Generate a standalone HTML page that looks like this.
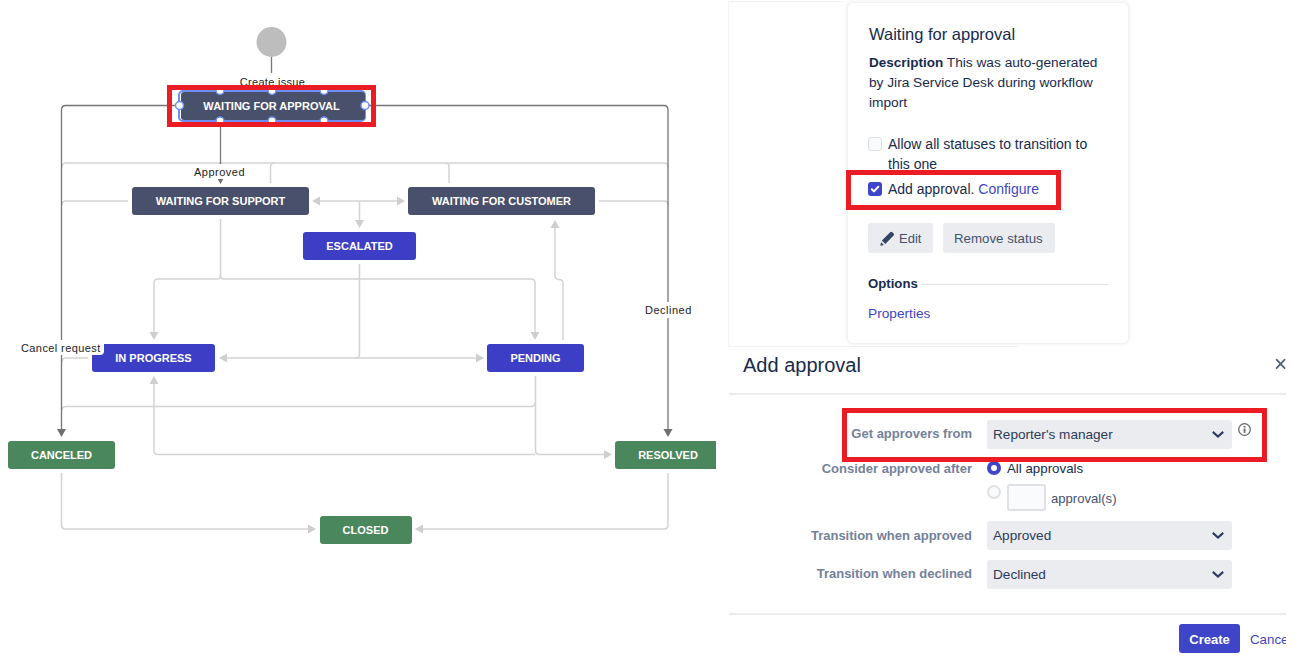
<!DOCTYPE html>
<html><head><meta charset="utf-8">
<style>
*{box-sizing:border-box;margin:0;padding:0}
html,body{width:1315px;height:660px;overflow:hidden;background:#fff}
body{position:relative;font-family:"Liberation Sans",sans-serif;color:#172B4D}
#diag{position:absolute;left:0;top:0;width:716px;height:660px;overflow:hidden}
.node{position:absolute;height:28px;border-radius:3px;color:#fff;font-weight:700;font-size:11px;text-align:center;line-height:28px;white-space:nowrap}
.slate{background:#49506B}
.indigo{background:#3C3EC6}
.green{background:#4B875C}
.lbl{position:absolute;font-size:11px;letter-spacing:0.5px;color:#222;background:#fff;white-space:nowrap;line-height:16px}
.red{position:absolute;border:5px solid #EC1C24}
.flabel{position:absolute;left:740px;width:232px;overflow:hidden;text-align:right;white-space:nowrap;font-size:13px;font-weight:700;color:#75819A;line-height:18px;direction:rtl}
.sel{position:absolute;left:987px;width:245px;height:29px;background:#EBECF0;border-radius:3px;font-size:13.6px;line-height:30px;padding-left:6px;color:#2C3A5A;white-space:nowrap}
.chev{position:absolute;left:225px;top:10.5px;width:12px;height:8px;background:no-repeat}
</style></head>
<body>
<div id="diag">
<svg width="716" height="660" style="position:absolute;left:0;top:0">
<g fill="none" stroke="#D3D3D3" stroke-width="1.5">
<path d="M62,167 Q62,163 66,163 H664 Q668,163 668,167"/>
<path d="M270.5,183 V167 Q270.5,163 274.5,163"/>
<path d="M445,163 Q449,163 449,167 V183"/>
<path d="M128,201 H66 Q62,201 62,205"/>
<path d="M599,201 H664 Q668,201 668,205"/>
<path d="M314,201 H403"/>
<path d="M359.5,201 V224"/>
<path d="M359.5,264 V354 Q359.5,358 355.5,358"/>
<path d="M221,358 H482"/>
<path d="M220.5,219 V275 Q220.5,279 216.5,279 H158 Q154,279 154,283 V336"/>
<path d="M220.5,275 Q220.5,279 224.5,279 H531 Q535,279 535,283 V336"/>
<path d="M563,340 V283 Q563,279.4 559,279.4 Q555,279.4 555,275.5 V224"/>
<path d="M62,410 Q62,406.5 66,406.5 H531 Q535,406.5 535,402.5"/>
<path d="M535.5,376 V450.5 Q535.5,454.5 539.5,454.5 H608"/>
<path d="M535,454.5 H158 Q154,454.5 154,450.5 V380"/>
<path d="M88,358 H66 Q62,358 62,362"/>
<path d="M61.5,473 V525 Q61.5,529 65.5,529 H312"/>
<path d="M668,473 V525 Q668,529 664,529 H419"/>
</g>
<g fill="#CFCFCF">
<path d="M312,201 l8,-4.5 v9z"/>
<path d="M405,201 l-8,-4.5 v9z"/>
<path d="M359.5,228 l-4.5,-8 h9z"/>
<path d="M154,340 l-4.5,-8 h9z"/>
<path d="M535,340 l-4.5,-8 h9z"/>
<path d="M555,220 l-4.5,8 h9z"/>
<path d="M219,358 l8,-4.5 v9z"/>
<path d="M484,358 l-8,-4.5 v9z"/>
<path d="M154,376 l-4.5,8 h9z"/>
<path d="M612,454.5 l-8,-4.5 v9z"/>
<path d="M316,529 l-8,-4.5 v9z"/>
<path d="M415,529 l8,-4.5 v9z"/>
</g>
<g fill="none" stroke="#767676" stroke-width="1.3">
<path d="M271.5,57 V73"/>
<path d="M178,105.5 H66 Q61.5,105.5 61.5,110 V430"/>
<path d="M366,105.5 H664 Q668,105.5 668,110 V430"/>
<path d="M220.5,122 V178"/>
</g>
<g fill="#707070">
<path d="M61.5,437 l-4.5,-8 h9z"/>
<path d="M668,437 l-4.5,-8 h9z"/>
<path d="M220.5,184 l-4.5,-8 h9z"/>
</g>
<circle cx="271.5" cy="42" r="15" fill="#BDBDBD"/>
</svg>
<div class="lbl" style="left:239.5px;top:74px;padding-left:0.3px;letter-spacing:0.3px">Create issue</div>
<div class="lbl" style="left:193.5px;top:163.5px;height:15.5px;padding-left:0.5px">Approved</div>
<div class="lbl" style="left:645px;top:302.4px;height:16px">Declined</div>

<div class="node slate" style="left:132px;top:187px;width:177px">WAITING FOR SUPPORT</div>
<div class="node slate" style="left:408px;top:187px;width:187px">WAITING FOR CUSTOMER</div>
<div class="node indigo" style="left:303px;top:232px;width:113px">ESCALATED</div>
<div class="node indigo" style="left:92px;top:344px;width:123px">IN PROGRESS</div>
<div class="node indigo" style="left:487px;top:344px;width:97px">PENDING</div>
<div class="node green" style="left:8px;top:441px;width:107px">CANCELED</div>
<div class="node green" style="left:615px;top:441px;width:106px">RESOLVED</div>
<div class="node green" style="left:319.5px;top:515.5px;width:92px">CLOSED</div>
<div class="lbl" style="left:18.5px;top:339.5px;width:85.5px;height:15.5px;padding-left:2.5px;letter-spacing:0.4px;border-radius:0 0 4px 0">Cancel request</div>

<!-- selected node -->
<div style="position:absolute;left:178px;top:90px;width:188px;height:32px;border:2px solid #6C8EF5;border-radius:5px"></div>
<div class="node slate" style="left:180.5px;top:91.5px;width:184px;height:28.5px;line-height:28px;padding-right:2px">WAITING FOR APPROVAL</div>
<svg width="716" height="660" style="position:absolute;left:0;top:0">
<g fill="#fff" stroke="#6C8EF5" stroke-width="1.5">
<circle cx="179.5" cy="105.5" r="4"/>
<circle cx="365" cy="105.5" r="4"/>
<circle cx="220" cy="90.5" r="4"/>
<circle cx="272" cy="90.5" r="4"/>
<circle cx="324" cy="90.5" r="4"/>
<circle cx="220" cy="121" r="4"/>
<circle cx="272" cy="121" r="4"/>
<circle cx="324" cy="121" r="4"/>
</g>
</svg>
<div class="red" style="left:167px;top:85px;width:209px;height:42px"></div>
</div>

<!-- right panels -->
<div style="position:absolute;left:728px;top:1px;width:1px;height:345px;background:#F4F5F7"></div><div style="position:absolute;left:728px;top:0.5px;width:115px;height:1.5px;background:#F2F3F5"></div><div style="position:absolute;left:728px;top:345.5px;width:290px;height:1.5px;background:#F1F2F4"></div>
<div id="card" style="position:absolute;left:848px;top:3px;width:280px;height:340px;background:#fff;border-radius:4px;box-shadow:0 0 1px rgba(0,0,0,0.12),0 0 5px rgba(0,0,0,0.11)">
  <div style="position:absolute;left:21px;top:21px;font-size:16.5px;line-height:20px;white-space:nowrap">Waiting for approval</div>
  <div style="position:absolute;left:21px;top:50px;width:250px;font-size:13.7px;line-height:20px"><b style="font-size:13.5px">Description</b> This was auto-generated<br>by Jira Service Desk during workflow<br>import</div>
  <div style="position:absolute;left:20px;top:134px;width:14px;height:14px;border:1.5px solid #DFE1E6;background:#FAFBFC;border-radius:3px"></div>
  <div style="position:absolute;left:40px;top:131px;font-size:14px;line-height:20px;white-space:nowrap">Allow all statuses to transition to<br>this one</div>
  <div style="position:absolute;left:20px;top:179px;width:14px;height:14px;background:#3F45C8;border-radius:3px"><svg width="14" height="14" style="position:absolute;left:0;top:0"><path d="M3.8,7.2 L6,9.4 L10.3,4.8" fill="none" stroke="#fff" stroke-width="2" stroke-linecap="round" stroke-linejoin="round"/></svg></div>
  <div style="position:absolute;left:40px;top:176px;font-size:14px;line-height:20px;white-space:nowrap">Add approval. <span style="color:#3F45C8">Configure</span></div>
  <div style="position:absolute;left:20px;top:220px;width:65px;height:30px;background:#EBECF0;border-radius:3px"></div>
  <svg width="18" height="18" style="position:absolute;left:31px;top:228px"><path d="M2.9,9.6 L11.2,1.3 Q12.3,0.4 13.3,1.3 L14.6,2.6 Q15.5,3.6 14.6,4.6 L6.3,12.9 Z" fill="#344563"/><path d="M1.3,14.7 L2.1,11.2 L4.9,14 Z" fill="#344563"/></svg>
  <div style="position:absolute;left:51px;top:226px;font-size:13px;line-height:20px;color:#42526E">Edit</div>
  <div style="position:absolute;left:95px;top:220px;width:112px;height:30px;background:#EBECF0;border-radius:3px"></div>
  <div style="position:absolute;left:106px;top:226px;font-size:13.3px;line-height:20px;color:#42526E;white-space:nowrap">Remove status</div>
  <div style="position:absolute;left:20px;top:271px;font-size:13.2px;font-weight:700;line-height:20px">Options</div>
  <div style="position:absolute;left:73px;top:281px;width:187px;height:1px;background:#DFE1E6"></div>
  <div style="position:absolute;left:20px;top:301px;font-size:13.7px;line-height:20px;color:#3F45C8">Properties</div>
</div>
<div class="red" style="left:846px;top:170px;width:215px;height:40px"></div>

<!-- dialog -->
<div style="position:absolute;left:743px;top:353px;font-size:20px;line-height:24px;white-space:nowrap">Add approval</div>
<svg width="12" height="12" style="position:absolute;left:1275px;top:358px"><path d="M1.6,1.6 L9.6,10.2 M9.6,1.6 L1.6,10.2" stroke="#505F79" stroke-width="1.7" stroke-linecap="round"/></svg>
<div style="position:absolute;left:729px;top:393px;width:557px;height:2px;background:#EBECF0"></div>
<div style="position:absolute;left:729px;top:612.5px;width:557px;height:2px;background:#EBECF0"></div>

<div class="flabel" style="top:425px">Get approvers from</div>
<div class="flabel" style="top:460px">Consider approved after</div>
<div class="flabel" style="top:527px">Transition when approved</div>
<div class="flabel" style="top:565px">Transition when declined</div>

<div class="sel" style="top:420px">Reporter's manager<svg class="chev" viewBox="0 0 12 8"><path d="M0.8,0.9 L6,5.5 L11.2,0.9" fill="none" stroke="#2F3B5C" stroke-width="2.1" stroke-linecap="butt" stroke-linejoin="miter"/></svg></div>
<div class="sel" style="top:521px">Approved<svg class="chev" viewBox="0 0 12 8"><path d="M0.8,0.9 L6,5.5 L11.2,0.9" fill="none" stroke="#2F3B5C" stroke-width="2.1" stroke-linecap="butt" stroke-linejoin="miter"/></svg></div>
<div class="sel" style="top:560px">Declined<svg class="chev" viewBox="0 0 12 8"><path d="M0.8,0.9 L6,5.5 L11.2,0.9" fill="none" stroke="#2F3B5C" stroke-width="2.1" stroke-linecap="butt" stroke-linejoin="miter"/></svg></div>

<svg width="16" height="16" style="position:absolute;left:1237px;top:422px"><circle cx="7.5" cy="7.5" r="5.8" fill="none" stroke="#6A6A6A" stroke-width="1.3"/><rect x="6.6" y="4" width="1.9" height="1.6" fill="#6A6A6A"/><rect x="6.6" y="6.6" width="1.9" height="4.2" fill="#6A6A6A"/></svg>

<div style="position:absolute;left:987px;top:461px;width:14px;height:14px;border-radius:50%;background:#3F45C8"></div>
<div style="position:absolute;left:991px;top:465px;width:6px;height:6px;border-radius:50%;background:#fff"></div>
<div style="position:absolute;left:1007px;top:460px;font-size:13.3px;line-height:18px;color:#172B4D;white-space:nowrap">All approvals</div>
<div style="position:absolute;left:987px;top:485px;width:14px;height:14px;border-radius:50%;border:2px solid #DFE1E6;background:#FAFBFC"></div>
<div style="position:absolute;left:1007px;top:483.5px;width:39px;height:27px;border:2px solid #DFE1E6;background:#FAFBFC;border-radius:3px"></div>
<div style="position:absolute;left:1051px;top:490px;font-size:13.1px;line-height:18px;color:#42526E;white-space:nowrap">approval(s)</div>

<div style="position:absolute;left:1179px;top:624px;width:61px;height:29px;background:#3F45C8;border-radius:3px;color:#fff;font-weight:700;font-size:13px;line-height:31px;text-align:center">Create</div>
<div style="position:absolute;left:1250px;top:630px;width:36px;overflow:hidden;font-size:13.3px;line-height:20px;color:#3F45C8;white-space:nowrap">Cancel</div>

<div class="red" style="left:842px;top:408px;width:425px;height:54px"></div>

</body></html>
